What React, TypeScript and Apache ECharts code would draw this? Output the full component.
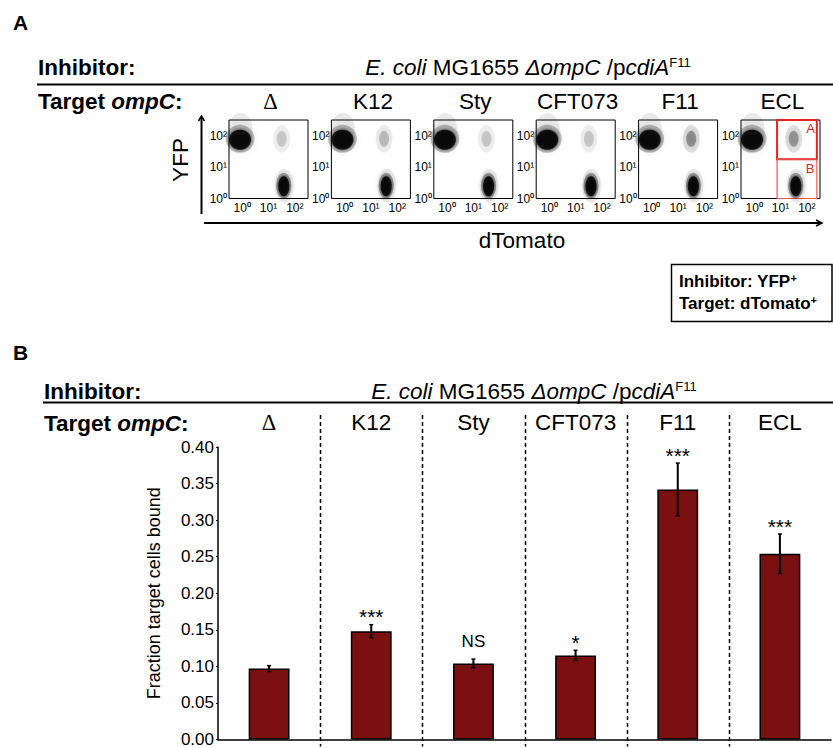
import React, { useEffect, useRef } from 'react';
import * as echarts from 'echarts';

// ---------- data ----------
const targets = ['Δ', 'K12', 'Sty', 'CFT073', 'F11', 'ECL'];

// Panel B: fraction of target cells bound
const fractionBound = [0.097, 0.148, 0.104, 0.115, 0.342, 0.254];
const fractionErr = [0.004, 0.009, 0.006, 0.007, 0.036, 0.027];
const significance = ['', '***', 'NS', '*', '***', '***'];

// Panel A: flow cytometry populations, in log10 units [dTomato, YFP]
const inhibitorPop = [-0.08, 1.87];
const targetPop = [1.58, 0.41];
const boundPop = [1.5, 1.9];
const boundDensity = [0.35, 0.42, 0.35, 0.35, 0.7, 0.65];
const decadeLabels = ['10\u2070', '10\u00B9', '10\u00B2'];
const gateX = [0.87, 2.38];
const gateY = [0, 1.25, 2.5];

// ---------- layout ----------
const FONT = '"Liberation Sans", Arial, Helvetica, sans-serif';
const HDR = 22.5;
const FLOW_LEFT = 229;
const FLOW_STEP = 102.4;
const FLOW_W = 79;
const FLOW_TOP = 120;
const FLOW_H = 78.5;
const BAR_LEFT = 218;
const BAR_W = 613;
const BAR_TOP = 447;
const BAR_H = 299.5;
const RED = '#e3231f';

// cluster layers: [dx, dy, w, h, alpha, blur]
const inhibitorLayers = [
  [0.02, 0.32, 24, 34, 0.1, 8],
  [0, 0.03, 29, 28, 0.3, 6],
  [0, 0, 22, 20, 0.97, 3],
];
const targetLayers = [
  [0.02, 0, 19, 34, 0.1, 7],
  [0, 0, 15, 26, 0.38, 5],
  [0, -0.02, 11, 20, 0.97, 3],
];
const boundLayers = [
  [0, 0, 17, 28, 0.22, 7],
  [0, 0, 10, 16, 0.55, 5],
];

function clusterItems(center: number[], layers: number[][], k: number) {
  return layers.map(([dx, dy, w, h, a, b]) => ({
    value: [center[0] + dx, center[1] + dy],
    symbolSize: [w, h],
    itemStyle: {
      color: `rgba(0,0,0,${Math.min(1, a * k)})`,
      shadowBlur: b,
      shadowColor: `rgba(0,0,0,${Math.min(1, a * k)})`,
    },
  }));
}

const richBase = { fontFamily: FONT, fontSize: HDR, fill: '#000', color: '#000' };

function richText(x: number, y: number, text: string, rich: any, align = 'left', extra: any = {}) {
  return {
    type: 'text',
    x,
    y,
    ...extra,
    style: {
      text,
      fontFamily: FONT,
      fontSize: HDR,
      fill: '#000',
      align,
      verticalAlign: 'middle',
      rich,
    },
  };
}

const headerRich = {
  b: { ...richBase, fontWeight: 'bold' },
  bi: { ...richBase, fontWeight: 'bold', fontStyle: 'italic' },
  i: { ...richBase, fontStyle: 'italic' },
  r: { ...richBase },
  s: { ...richBase, fontSize: 13, verticalAlign: 'top', lineHeight: 13 },
};

export default function App() {
  const ref = useRef<HTMLDivElement>(null);

  useEffect(() => {
    const chart = echarts.init(ref.current!, null, { renderer: 'svg' });

    const grid: any[] = [];
    const xAxis: any[] = [];
    const yAxis: any[] = [];
    const series: any[] = [];

    const decadeFmt = (v: number) => {
      const k = Math.round(v * 2);
      if (k % 2 !== 0) return '';
      return decadeLabels[k / 2] ?? '';
    };

    targets.forEach((t, i) => {
      grid.push({
        left: FLOW_LEFT + i * FLOW_STEP,
        top: FLOW_TOP,
        width: FLOW_W,
        height: FLOW_H,
        show: true,
        borderColor: '#000',
        borderWidth: 1,
        backgroundColor: 'transparent',
      });
      xAxis.push({
        gridIndex: i,
        type: 'value',
        min: -0.5,
        max: 2.5,
        interval: 0.5,
        axisLine: { show: false },
        axisTick: { show: false },
        splitLine: { show: false },
        axisLabel: { formatter: decadeFmt, fontSize: 12, margin: 3, color: '#000', fontFamily: FONT },
      });
      yAxis.push({
        gridIndex: i,
        type: 'value',
        min: 0,
        max: 2.5,
        interval: 0.5,
        axisLine: { show: false },
        axisTick: { show: false },
        splitLine: { show: false },
        axisLabel: { formatter: decadeFmt, fontSize: 12, margin: 2, color: '#000', fontFamily: FONT },
      });
      const data = [
        ...clusterItems(inhibitorPop, inhibitorLayers, 1),
        ...clusterItems(targetPop, targetLayers, 1),
        ...clusterItems(boundPop, boundLayers, boundDensity[i]),
      ];
      const s: any = {
        type: 'scatter',
        xAxisIndex: i,
        yAxisIndex: i,
        symbol: 'circle',
        clip: true,
        data,
        silent: true,
      };
      if (i === targets.length - 1) {
        s.markArea = {
          silent: true,
          data: [
            [
              {
                coord: [gateX[0], gateY[1]],
                name: 'A',
                itemStyle: { color: 'rgba(0,0,0,0)', borderColor: RED, borderWidth: 2 },
              },
              { coord: [gateX[1], gateY[2]] },
            ],
            [
              {
                coord: [gateX[0], gateY[0]],
                name: 'B',
                itemStyle: { color: 'rgba(0,0,0,0)', borderColor: '#ee5550', borderWidth: 1.2 },
              },
              { coord: [gateX[1], gateY[1]] },
            ],
          ],
          label: {
            show: true,
            position: 'insideTopRight',
            color: RED,
            fontSize: 13,
            fontFamily: FONT,
            distance: 3,
          },
        };
      }
      series.push(s);
    });

    // ---- Panel B bar chart ----
    const bi = targets.length;
    grid.push({ left: BAR_LEFT, top: BAR_TOP, width: BAR_W, height: BAR_H });
    const catRich = { d: { fontFamily: '"Liberation Serif", "DejaVu Serif", serif', fontSize: HDR, color: '#000' } };
    xAxis.push({
      gridIndex: bi,
      type: 'category',
      data: targets,
      position: 'bottom',
      axisLine: { show: true, lineStyle: { color: '#000', width: 1.5 } },
      axisTick: { show: false },
      axisLabel: { show: false },
    });
    xAxis.push({
      gridIndex: bi,
      type: 'category',
      data: targets,
      position: 'top',
      axisLine: { show: false },
      axisTick: { show: false },
      axisLabel: {
        show: true,
        interval: 0,
        hideOverlap: false,
        margin: 13,
        fontSize: HDR,
        color: '#000',
        fontFamily: FONT,
        formatter: (v: string) => (v === 'Δ' ? '{d|Δ}' : v),
        rich: catRich,
      },
    });
    yAxis.push({
      gridIndex: bi,
      type: 'value',
      min: 0,
      max: 0.4,
      interval: 0.05,
      name: 'Fraction target cells bound',
      nameLocation: 'middle',
      nameGap: 55,
      nameTextStyle: { fontSize: 18, color: '#000', fontFamily: FONT },
      axisLine: { show: true, lineStyle: { color: '#000', width: 1.5 } },
      axisTick: { show: true, length: 2, lineStyle: { color: '#000' } },
      splitLine: { show: false },
      axisLabel: {
        fontSize: 17,
        color: '#000',
        fontFamily: FONT,
        margin: 4,
        padding: [0, 0, 5, 0],
        formatter: (v: number) => v.toFixed(2),
      },
    });

    series.push({
      type: 'bar',
      xAxisIndex: bi,
      yAxisIndex: bi,
      data: fractionBound,
      barWidth: '40%',
      itemStyle: { color: '#7a1010', borderColor: '#000', borderWidth: 1.5 },
      silent: true,
    });

    series.push({
      type: 'custom',
      xAxisIndex: bi,
      yAxisIndex: bi,
      z: 5,
      silent: true,
      data: fractionBound.map((v, i) => [i, v, fractionErr[i]]),
      renderItem: (params: any, api: any) => {
        const idx = api.value(0);
        const v = api.value(1);
        const e = api.value(2);
        const top = api.coord([idx, v + e]);
        const bot = api.coord([idx, v - e]);
        const x = top[0];
        const sig = significance[params.dataIndex];
        const isStar = sig.startsWith('*');
        const children: any[] = [
          { type: 'line', shape: { x1: x, y1: top[1], x2: x, y2: bot[1] }, style: { stroke: '#000', lineWidth: 2 } },
          { type: 'line', shape: { x1: x - 2, y1: top[1], x2: x + 2, y2: top[1] }, style: { stroke: '#000', lineWidth: 1.5 } },
          { type: 'line', shape: { x1: x - 2, y1: bot[1], x2: x + 2, y2: bot[1] }, style: { stroke: '#000', lineWidth: 1.5 } },
        ];
        if (sig) {
          children.push({
            type: 'text',
            x,
            y: top[1] - (isStar ? 8 : 18),
            style: {
              text: sig,
              fontFamily: FONT,
              fontSize: isStar ? 21 : 17,
              fill: '#000',
              align: 'center',
              verticalAlign: 'middle',
            },
          });
        }
        return { type: 'group', children };
      },
    });

    // ---- graphic layer ----
    const graphic: any[] = [];
    const bold21 = { fontFamily: FONT, fontSize: 21, fontWeight: 'bold', fill: '#000', verticalAlign: 'middle' };
    graphic.push({ type: 'text', x: 13, y: 22.5, style: { ...bold21, text: 'A' } });
    graphic.push({ type: 'text', x: 13, y: 352, style: { ...bold21, text: 'B' } });

    const strain = '{i|E. coli }{r|MG1655 }{i|ΔompC }{r|/p}{i|cdiA}{s|F11}';
    const targetHdr = '{b|Target }{bi|ompC}{b|:}';
    // Panel A headers
    graphic.push(richText(38, 67, '{b|Inhibitor:}', headerRich));
    graphic.push(richText(528, 67, strain, headerRich, 'center'));
    graphic.push(richText(38, 101.5, targetHdr, headerRich));
    graphic.push({ type: 'line', shape: { x1: 37, y1: 84.5, x2: 833, y2: 84.5 }, style: { stroke: '#000', lineWidth: 2 } });
    targets.forEach((t, i) => {
      const cx = FLOW_LEFT + i * FLOW_STEP + FLOW_W / 2 + 2;
      graphic.push(
        richText(cx, 101.5, t === 'Δ' ? '{d|Δ}' : `{r|${t}}`, { r: { ...richBase }, d: { ...richBase, fontFamily: '"Liberation Serif", "DejaVu Serif", serif' } }, 'center')
      );
    });
    // Panel B headers
    graphic.push(richText(44, 391, '{b|Inhibitor:}', headerRich));
    graphic.push(richText(534, 391, strain, headerRich, 'center'));
    graphic.push(richText(44, 423, targetHdr, headerRich));
    graphic.push({ type: 'line', shape: { x1: 43, y1: 402.5, x2: 833, y2: 402.5 }, style: { stroke: '#000', lineWidth: 2 } });

    // separators in panel B
    for (let k = 1; k < targets.length; k++) {
      const x = Math.round(BAR_LEFT + (k * BAR_W) / targets.length) + 0.5;
      graphic.push({
        type: 'line',
        z: 1,
        shape: { x1: x, y1: 415, x2: x, y2: BAR_TOP + BAR_H },
        style: { stroke: '#000', lineWidth: 1.5, lineDash: [4, 3] },
      });
    }

    // axes arrows for panel A
    graphic.push({ type: 'line', shape: { x1: 201.5, y1: 214, x2: 201.5, y2: 117 }, style: { stroke: '#000', lineWidth: 2 } });
    graphic.push({ type: 'polyline', shape: { points: [[198.5, 121], [201.5, 116], [204.5, 121]] }, style: { stroke: '#000', lineWidth: 1.5, fill: 'none' } });
    graphic.push({ type: 'line', shape: { x1: 204, y1: 223, x2: 821, y2: 223 }, style: { stroke: '#000', lineWidth: 2 } });
    graphic.push({ type: 'polyline', shape: { points: [[816, 220], [822, 223], [816, 226]] }, style: { stroke: '#000', lineWidth: 1.5, fill: 'none' } });
    graphic.push({
      type: 'text',
      x: 180,
      y: 160,
      rotation: Math.PI / 2,
      style: { text: 'YFP', fontFamily: FONT, fontSize: HDR, fill: '#000', align: 'center', verticalAlign: 'middle' },
    });
    graphic.push({
      type: 'text',
      x: 522,
      y: 240,
      style: { text: 'dTomato', fontFamily: FONT, fontSize: HDR, fill: '#000', align: 'center', verticalAlign: 'middle' },
    });

    // legend box
    graphic.push({
      type: 'rect',
      shape: { x: 671.5, y: 264.5, width: 160.5, height: 57 },
      style: { stroke: '#000', lineWidth: 1.5, fill: '#fff' },
    });
    const legRich = {
      b: { fontFamily: FONT, fontSize: 17, fontWeight: 'bold', fill: '#000' },
      s: { fontFamily: FONT, fontSize: 11, fontWeight: 'bold', fill: '#000', verticalAlign: 'top', lineHeight: 11 },
    };
    graphic.push(richText(679, 281, '{b|Inhibitor: YFP}{s|+}', legRich, 'left', { z: 10 }));
    graphic.push(richText(679, 303, '{b|Target: dTomato}{s|+}', legRich, 'left', { z: 10 }));

    chart.setOption({
      animation: false,
      backgroundColor: '#fff',
      textStyle: { fontFamily: FONT },
      grid,
      xAxis,
      yAxis,
      series,
      graphic,
    });

    return () => chart.dispose();
  }, []);

  return <div ref={ref} style={{ position: 'absolute', left: 0, top: 0, width: 833, height: 748 }} />;
}
